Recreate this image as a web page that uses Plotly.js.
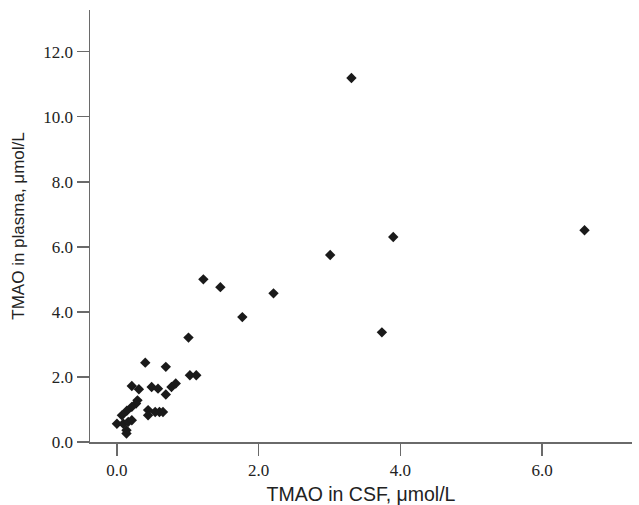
<!DOCTYPE html>
<html>
<head>
<meta charset="utf-8">
<script src="https://cdn.plot.ly/plotly-3.0.1.min.js"></script>
<style>html,body{margin:0;padding:0;background:#fff}#chart{width:639px;height:505px}</style>
</head>
<body>
<div id="chart"></div>
<script>
var csfTMAO = [3.31, 6.60, 3.90, 3.01, 1.22, 1.46, 2.21, 1.77, 3.74, 1.01,
  0.40, 0.69, 1.03, 1.12, 0.21, 0.31, 0.49, 0.58, 0.77, 0.83, 0.69,
  0.29, 0.27, 0.21, 0.14, 0.07, 0.00, 0.09, 0.16, 0.21, 0.135, 0.135,
  0.44, 0.44, 0.54, 0.60, 0.65];
var plasmaTMAO = [11.19, 6.51, 6.30, 5.75, 5.00, 4.76, 4.57, 3.84, 3.37, 3.21,
  2.44, 2.31, 2.05, 2.05, 1.72, 1.62, 1.69, 1.64, 1.69, 1.80, 1.46,
  1.28, 1.18, 1.08, 0.96, 0.82, 0.56, 0.56, 0.62, 0.67, 0.36, 0.26,
  0.98, 0.82, 0.92, 0.92, 0.92];
var xTicks = [0, 2, 4, 6];
var xTickText = ["0.0", "2.0", "4.0", "6.0"];
var yTicks = [0, 2, 4, 6, 8, 10, 12];
var yTickText = ["0.0", "2.0", "4.0", "6.0", "8.0", "10.0", "12.0"];

var trace = {
  x: csfTMAO, y: plasmaTMAO, type: 'scatter', mode: 'markers',
  marker: {symbol: 'diamond', size: 8, color: '#1a1a1a'},
  hoverinfo: 'x+y'
};
var axisCommon = {
  showgrid: false, zeroline: false, showline: true, linecolor: '#6a6a6a', linewidth: 1.5,
  ticks: 'outside', ticklen: 12, tickwidth: 1.5, tickcolor: '#6a6a6a',
  tickfont: {family: 'Liberation Serif, Times New Roman, serif', size: 17, color: '#222'}
};
var layout = {
  width: 639, height: 505,
  margin: {l: 90, r: 7, t: 10, b: 63},
  paper_bgcolor: '#fff', plot_bgcolor: '#fff',
  showlegend: false,
  xaxis: Object.assign({}, axisCommon, {
    range: [-0.38, 7.27], tickvals: xTicks, ticktext: xTickText,
    title: {text: 'TMAO in CSF, μmol/L', standoff: 8,
      font: {family: 'Liberation Sans, Arial, sans-serif', size: 19.5, color: '#222'}}
  }),
  yaxis: Object.assign({}, axisCommon, {
    range: [0, 13.28], tickvals: yTicks, ticktext: yTickText,
    title: {text: 'TMAO in plasma, μmol/L', standoff: 14,
      font: {family: 'Liberation Sans, Arial, sans-serif', size: 17, color: '#222'}}
  })
};
Plotly.newPlot('chart', [trace], layout, {displayModeBar: false, staticPlot: true});
</script>
</body>
</html>
